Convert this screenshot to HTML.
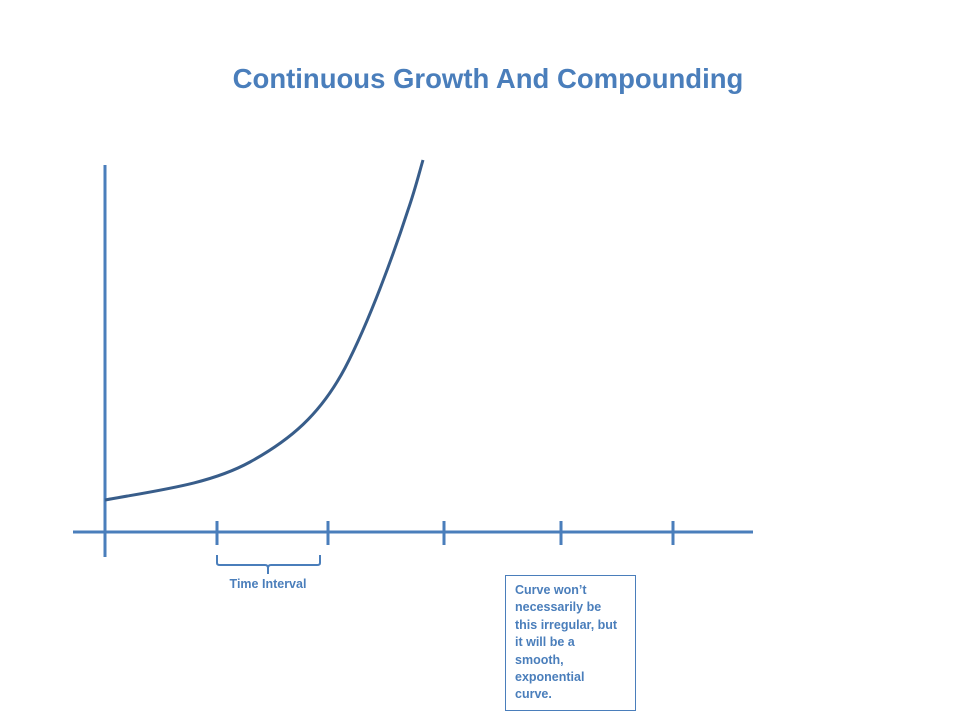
<!DOCTYPE html>
<html><head><style>
body{margin:0;width:960px;height:720px;background:#fff;overflow:hidden;position:relative;font-family:"Liberation Sans",sans-serif}
.t{position:absolute;left:0;width:976px;text-align:center;top:63px;font-size:27.5px;font-weight:bold;color:#4a7ebb}
.box{position:absolute;left:505px;top:575px;width:131px;height:136px;border:1px solid #4a7ebb;box-sizing:border-box;padding:6px 14px 6px 9px;font-size:12.5px;font-weight:bold;color:#4a7ebb;line-height:17.4px}
</style></head><body>
<div class="t">Continuous Growth And Compounding</div>
<svg width="960" height="720" style="position:absolute;left:0;top:0">
<g stroke="#4a7ebb" stroke-width="3" fill="none">
<line x1="73" y1="532" x2="753" y2="532"/>
<line x1="105" y1="165" x2="105" y2="557"/>
<line x1="217" y1="521" x2="217" y2="545"/>
<line x1="328" y1="521" x2="328" y2="545"/>
<line x1="444" y1="521" x2="444" y2="545"/>
<line x1="561" y1="521" x2="561" y2="545"/>
<line x1="673" y1="521" x2="673" y2="545"/>
</g>
<path d="M217 555 v8 q0 2 3 2 h45 q3 0 3 3 v6 M268 568 q0-3 3-3 h46 q3 0 3-2 v-8" stroke="#4a7ebb" stroke-width="2" fill="none"/>
<path d="M105 500 C160 490 210 484 250 462 C290 440 320 415 345 368 C370 320 395 250 408 210 C415 190 420 170 423 160" stroke="#385d8a" stroke-width="3" fill="none"/>
<text x="268" y="588" text-anchor="middle" font-family="Liberation Sans, sans-serif" font-size="12.5" font-weight="bold" fill="#4a7ebb">Time Interval</text>
</svg>
<div class="box">Curve won’t necessarily be this irregular, but it will be a smooth, exponential curve.</div>
</body></html>
